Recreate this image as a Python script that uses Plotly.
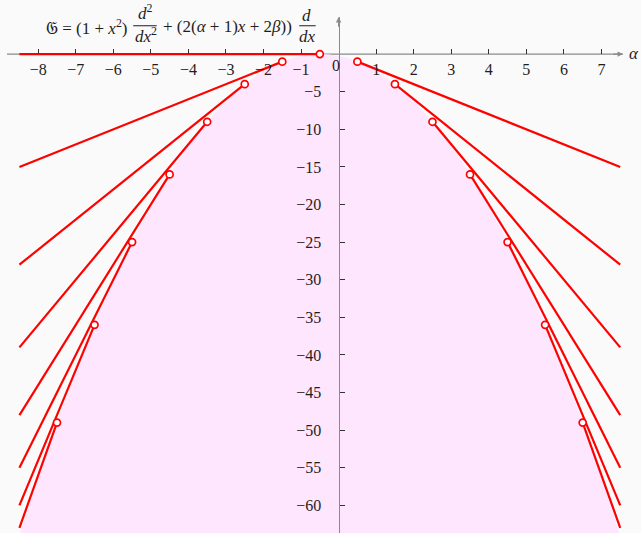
import plotly.graph_objects as go

# Eigenvalue branches for alpha < 0: contact point on the boundary,
# eigenvalue there, and value reached at the left end of the alpha range
left_alpha = [-0.5, -1.5, -2.5, -3.5, -4.5, -5.5, -6.5, -7.5]
left_lambda = [0, -1, -4, -9, -16, -25, -36, -49]
left_end = [0, -15, -28, -39, -48, -55, -60, -63]

# Eigenvalue branches for alpha > 0 (value at the right end of the range)
right_alpha = [0.5, 1.5, 2.5, 3.5, 4.5, 5.5, 6.5]
right_lambda = [-1, -4, -9, -16, -25, -36, -49]
right_end = [-15, -28, -39, -48, -55, -60, -63]

alpha_lo, alpha_hi = -8.5, 7.5

# Upper boundary of the shaded region
edge_alpha = [-8.5, -7.5, -6.5, -5.5, -4.5, -3.5, -2.5, -1.5, -0.5,
              0.5, 1.5, 2.5, 3.5, 4.5, 5.5, 6.5, 7.5]
edge_lambda = [-64, -49, -36, -25, -16, -9, -4, -1, 0,
               -1, -4, -9, -16, -25, -36, -49, -64]
floor_lambda = -70

x_ticks = [-8, -7, -6, -5, -4, -3, -2, -1, 1, 2, 3, 4, 5, 6, 7]
y_ticks = [-5, -10, -15, -20, -25, -30, -35, -40, -45, -50, -55, -60]

W, H = 641, 533
X_RANGE = [-8.831, 7.574]
Y_RANGE = [-63.68, 4.934]
X_DOM = [7 / W, 623 / W]
Y_DOM = [0.0, 1 - 17 / H]

FONT = "Liberation Serif, DejaVu Serif, serif"
INK = "#1e1e1e"
AXIS = "#8a8a8a"
RED = "#ff0000"
PINK = "#ffe6ff"
BG = "#fafafa"


def px(v):
    return v / W


def py(v):
    return 1 - v / H


def paper_x(v):
    return X_DOM[0] + (v - X_RANGE[0]) / (X_RANGE[1] - X_RANGE[0]) * (X_DOM[1] - X_DOM[0])


def paper_y(v):
    return Y_DOM[0] + (v - Y_RANGE[0]) / (Y_RANGE[1] - Y_RANGE[0]) * (Y_DOM[1] - Y_DOM[0])


fig = go.Figure()

# shaded region below the boundary curve
fig.add_trace(go.Scatter(
    x=[edge_alpha[0], edge_alpha[-1]], y=[floor_lambda, floor_lambda],
    mode="lines", line=dict(width=0), hoverinfo="skip", showlegend=False))
fig.add_trace(go.Scatter(
    x=edge_alpha, y=edge_lambda, mode="lines",
    line=dict(width=0, shape="spline", smoothing=1.0),
    fill="tonexty", fillcolor=PINK, hoverinfo="skip", showlegend=False))

# branch lines
lx, ly = [], []
for a, lam, e in zip(left_alpha, left_lambda, left_end):
    lx += [a, alpha_lo, None]
    ly += [lam, e, None]
for a, lam, e in zip(right_alpha, right_lambda, right_end):
    lx += [a, alpha_hi, None]
    ly += [lam, e, None]
fig.add_trace(go.Scatter(x=lx, y=ly, mode="lines",
                         line=dict(color=RED, width=2.2), showlegend=False))

# contact points
fig.add_trace(go.Scatter(
    x=left_alpha + right_alpha, y=left_lambda + right_lambda, mode="markers",
    marker=dict(symbol="circle", size=7, color="white",
                line=dict(color=RED, width=1.7)),
    showlegend=False))

fig.update_layout(
    width=W, height=H,
    margin=dict(l=0, r=0, t=0, b=0),
    paper_bgcolor=BG, plot_bgcolor=BG,
    showlegend=False,
    xaxis=dict(
        domain=X_DOM, range=X_RANGE, anchor="free", position=paper_y(0),
        showgrid=False, zeroline=False, showline=False,
        tickmode="array", tickvals=x_ticks,
        ticks="inside", ticklen=5, tickwidth=1.1, tickcolor="#333",
        tickfont=dict(family=FONT, size=16, color=INK),
        ticklabelstandoff=4, layer="above traces",
    ),
    yaxis=dict(
        domain=Y_DOM, range=Y_RANGE, anchor="free", position=paper_x(0),
        showgrid=False, zeroline=False, showline=True,
        linecolor=AXIS, linewidth=1.4,
        tickmode="array", tickvals=y_ticks,
        ticks="inside", ticklen=5, tickwidth=1.1, tickcolor="#333",
        tickfont=dict(family=FONT, size=16, color=INK),
        ticklabelstandoff=14, layer="above traces",
    ),
)

# horizontal axis line, kept beneath the red branch at lambda = 0
fig.update_layout(shapes=[
    dict(type="line", xref="x", yref="y", x0=X_RANGE[0], x1=X_RANGE[1],
         y0=0, y1=0, line=dict(color=AXIS, width=1.4), layer="below"),
])

ann = []
# axis arrowheads
ann.append(dict(x=X_RANGE[1], y=0, ax=X_RANGE[1] - 0.3, ay=0,
                xref="x", yref="y", axref="x", ayref="y", text="",
                showarrow=True, arrowhead=2, arrowsize=0.9, arrowwidth=1.2,
                arrowcolor=AXIS))
ann.append(dict(x=0, y=Y_RANGE[1], ax=0, ay=Y_RANGE[1] - 1.5,
                xref="x", yref="y", axref="x", ayref="y", text="",
                showarrow=True, arrowhead=2, arrowsize=0.9, arrowwidth=1.2,
                arrowcolor=AXIS))


def label(text, x, y, xanchor="center", size=17):
    ann.append(dict(text=text, x=px(x), y=py(y), xref="paper", yref="paper",
                    xanchor=xanchor, yanchor="middle", showarrow=False,
                    font=dict(family=FONT, size=size, color=INK)))


def frac_bar(x0, x1, y):
    # plain rule drawn as a headless annotation arrow
    ann.append(dict(text="", x=px(x1), y=py(y), xref="paper", yref="paper",
                    ax=-(x1 - x0), ay=0, showarrow=True, arrowhead=0,
                    arrowwidth=1.1, arrowcolor=INK, standoff=0,
                    startstandoff=0))


label("0", 336, 66, size=16)
label("<i>α</i>", 634, 54, size=17)

# operator formula
label("𝔊 = (1 + <i>x</i><sup>2</sup>)", 129.5, 27, xanchor="right")
label("<i>d</i><sup>2</sup>", 145, 12.5)
frac_bar(131.7, 156.7, 25.7)
label("<i>dx</i><sup>2</sup>", 145.5, 35)
label("+ (2(<i>α</i> + 1)<i>x</i> + 2<i>β</i>))", 161, 27, xanchor="left")
label("<i>d</i>", 306.5, 15)
frac_bar(297.7, 315.7, 25.7)
label("<i>dx</i>", 307, 36)

fig.update_layout(annotations=ann)

fig.write_html("out.html")
